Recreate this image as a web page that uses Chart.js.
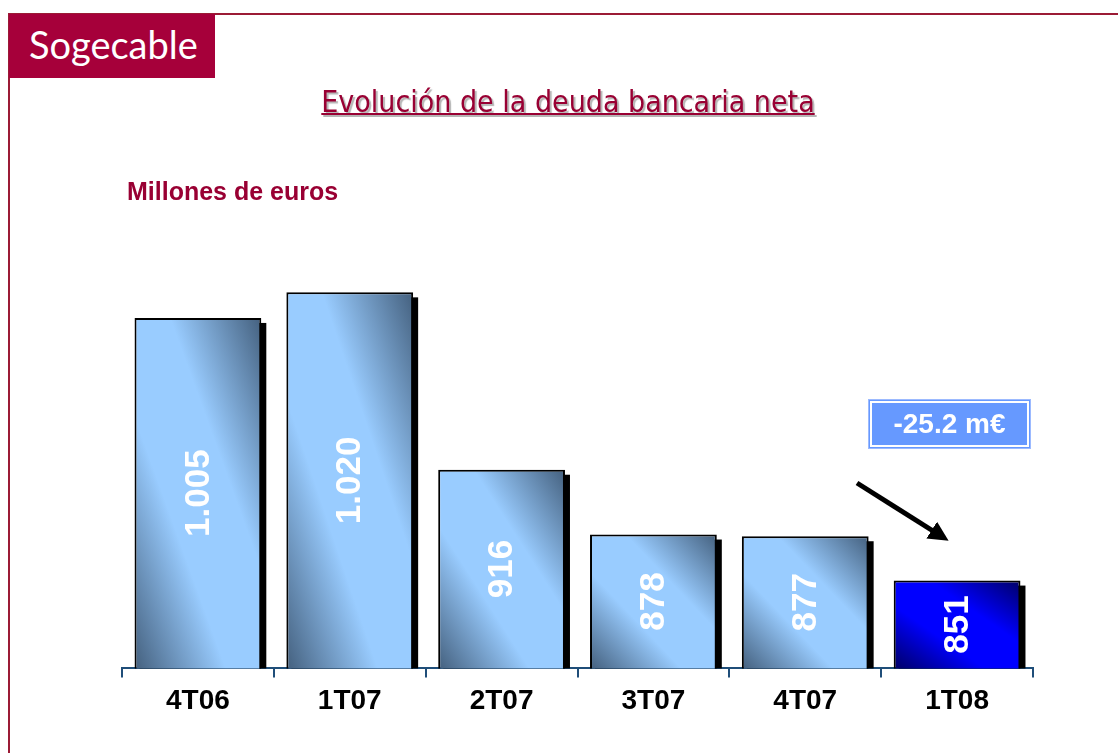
<!DOCTYPE html>
<html>
<head>
    <title>Evolución de la deuda bancaria neta</title>
    <style>
        body {
            margin: 0;
            width: 1118px;
            height: 753px;
            position: relative;
            overflow: hidden;
            background: #fff;
            font-family: "Liberation Sans", Arial, sans-serif;
        }
        #frame-top {
            position: absolute; left: 9px; top: 13px; width: 1109px; height: 2px; background: #9b1b35;
        }
        #frame-left {
            position: absolute; left: 8px; top: 13px; width: 2px; height: 740px; background: #9b1b35;
        }
        #logo {
            position: absolute; left: 9px; top: 14px; width: 206px; height: 64px;
            background: #a6003a; color: #fff;
            font-family: Lato, "Open Sans", sans-serif; font-size: 38px;
            line-height: 60px; padding-left: 20px; box-sizing: border-box;
        }
        #title {
            position: absolute; left: 0; width: 1136px; top: 84px; text-align: center;
            font-family: "DejaVu Sans Condensed", "DejaVu Sans", sans-serif; font-size: 30px;
            line-height: 36px;
            color: #990033; text-decoration: underline; text-decoration-thickness: 2px;
            text-shadow: 2px 2px 1px #b5b5b5;
        }
        #units {
            position: absolute; left: 127px; top: 177px;
            font-weight: bold; font-size: 25px; color: #990033;
        }
        #delta {
            position: absolute; left: 869px; top: 400px; width: 161px; height: 48px;
            box-sizing: border-box; background: #6699ff;
            border: 1px solid #6699ff; outline: 2px solid #fff; outline-offset: -3px;
            box-shadow: 0 0 0 1px #9cbaff;
            color: #fff; font-weight: bold; font-size: 28px; text-align: center; line-height: 46px;
        }
        #arrow { position: absolute; left: 0; top: 0; }
        #chart-wrap { position: absolute; left: 0; top: 0; width: 1118px; height: 753px; }
    </style>
</head>
<body>
<div id="chart-wrap"><canvas id="debtChart"></canvas></div>
<div id="frame-top"></div>
<div id="frame-left"></div>
<div id="logo">Sogecable</div>
<div id="title">Evolución de la deuda bancaria neta</div>
<div id="units">Millones de euros</div>
<div id="delta">-25.2 m€</div>
<svg id="arrow" width="1118" height="753">
    <defs>
        <marker id="head" markerWidth="4" markerHeight="4" refX="2.2" refY="2" orient="auto">
            <path d="M0,0 L4,2 L0,4 z" fill="#000"/>
        </marker>
    </defs>
    <line x1="857" y1="483" x2="941" y2="536" stroke="#000" stroke-width="5" marker-end="url(#head)"/>
</svg>

<script src="https://cdn.jsdelivr.net/npm/chart.js"></script>
<script>
    const quarters = ['4T06', '1T07', '2T07', '3T07', '4T07', '1T08'];
    const debt = [1005, 1020, 916, 878, 877, 851];
    const debtLabels = ['1.005', '1.020', '916', '878', '877', '851'];
    // last quarter is highlighted in strong blue
    const lightTones = ['#99ccff', '#99ccff', '#99ccff', '#99ccff', '#99ccff', '#0000ff'];
    const darkTones = ['#44607e', '#44607e', '#44607e', '#44607e', '#44607e', '#000066'];

    const barPct = 0.835;

    function barGradient(c) {
        const chart = c.chart;
        if (!chart.chartArea) return lightTones[c.dataIndex];
        const xs = chart.scales.x, ys = chart.scales.y;
        const cx = xs.getPixelForValue(c.dataIndex);
        const w = xs.width / quarters.length * barPct;
        const top = ys.getPixelForValue(debt[c.dataIndex]);
        const bottom = ys.bottom;
        const h = bottom - top;
        const cy = (top + bottom) / 2;
        // gradient runs across the top-left / bottom-right diagonal
        const k = w * h / (w * w + h * h);
        const g = chart.ctx.createLinearGradient(cx - h * k, cy + w * k, cx + h * k, cy - w * k);
        g.addColorStop(0, darkTones[c.dataIndex]);
        g.addColorStop(0.36, lightTones[c.dataIndex]);
        g.addColorStop(0.64, lightTones[c.dataIndex]);
        g.addColorStop(1, darkTones[c.dataIndex]);
        return g;
    }

    const barExtras = {
        id: 'barExtras',
        beforeDatasetsDraw(chart) {
            const ctx = chart.ctx;
            const meta = chart.getDatasetMeta(0);
            const bottom = chart.chartArea.bottom;
            ctx.save();
            ctx.fillStyle = '#000';
            meta.data.forEach(el => {
                ctx.fillRect(el.x - el.width / 2 + 5, el.y + 5, el.width, bottom - el.y - 5);
            });
            ctx.restore();
        },
        afterDatasetsDraw(chart) {
            const ctx = chart.ctx;
            const meta = chart.getDatasetMeta(0);
            const bottom = chart.chartArea.bottom;
            ctx.save();
            ctx.fillStyle = '#fff';
            ctx.font = 'bold 35px "Liberation Sans", Arial, sans-serif';
            ctx.textAlign = 'center';
            ctx.textBaseline = 'middle';
            meta.data.forEach((el, i) => {
                ctx.save();
                ctx.translate(el.x + 1, (el.y + bottom) / 2);
                ctx.rotate(-Math.PI / 2);
                ctx.fillText(debtLabels[i], 0, 0);
                ctx.restore();
            });
            ctx.restore();
        }
    };

    const ctx = document.getElementById('debtChart').getContext('2d');
    new Chart(ctx, {
        type: 'bar',
        data: {
            labels: quarters,
            datasets: [{
                data: debt,
                backgroundColor: barGradient,
                borderColor: '#000',
                borderWidth: 2,
                barPercentage: barPct,
                categoryPercentage: 1
            }]
        },
        options: {
            responsive: true,
            maintainAspectRatio: false,
            animation: false,
            layout: {
                padding: { left: 122, right: 85, top: 225, bottom: 28 }
            },
            plugins: {
                legend: { display: false },
                tooltip: { enabled: false }
            },
            scales: {
                x: {
                    grid: {
                        offset: true,
                        drawOnChartArea: false,
                        drawTicks: true,
                        tickLength: 9,
                        color: '#1f4e79',
                        lineWidth: 2
                    },
                    border: { display: true, color: '#1f4e79', width: 2 },
                    ticks: {
                        color: '#000',
                        padding: 7,
                        font: { family: '"Liberation Sans", Arial, sans-serif', size: 28, weight: 'bold' }
                    }
                },
                y: {
                    display: false,
                    min: 799.5,
                    max: 1059.5
                }
            }
        },
        plugins: [barExtras]
    });
</script>
</body>
</html>
